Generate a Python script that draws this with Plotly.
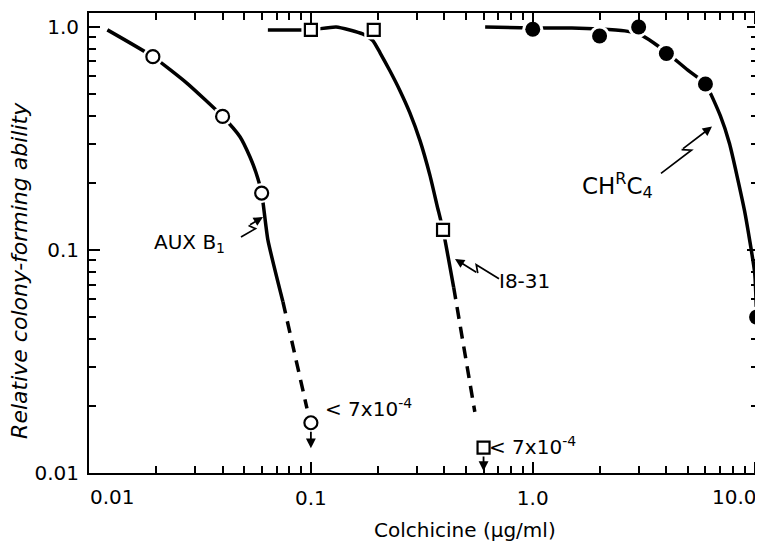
import math
import plotly.graph_objects as go

# ---------------- data ----------------
# AUX B1 (open circles)
aux_x = [0.0194, 0.040, 0.060, 0.100]
aux_y = [0.736, 0.397, 0.180, 0.0168]
aux_curve_x = [0.0121, 0.0194, 0.0276, 0.040, 0.0479, 0.0531, 0.0565, 0.060, 0.064, 0.0748]
aux_curve_y = [0.97, 0.736, 0.56, 0.397, 0.322, 0.262, 0.223, 0.180, 0.111, 0.0586]
aux_dash_x = [0.0748, 0.096]
aux_dash_y = [0.0586, 0.0195]

# I8-31 (open squares)
i8_x = [0.100, 0.192, 0.394, 0.60]
i8_y = [0.97, 0.97, 0.123, 0.013]
i8_curve_x = [0.064, 0.100, 0.130, 0.171, 0.190, 0.205, 0.227, 0.252, 0.279, 0.310, 0.344, 0.370, 0.394, 0.44]
i8_curve_y = [0.97, 0.97, 1.00, 0.93, 0.87, 0.766, 0.636, 0.518, 0.413, 0.310, 0.216, 0.159, 0.123, 0.068]
i8_dash_x = [0.44, 0.548]
i8_dash_y = [0.068, 0.0188]

# CH^R C4 (filled circles)
ch_x = [1.0, 2.0, 3.0, 4.0, 6.0, 10.2]
ch_y = [0.976, 0.91, 1.0, 0.76, 0.555, 0.05]
ch_curve_x = [0.61, 1.0, 1.5, 2.0, 2.6, 3.0, 3.5, 4.0, 5.0, 6.0, 7.0, 7.7, 9.0, 10.0, 10.2]
ch_curve_y = [1.0, 0.99, 0.99, 0.98, 0.96, 0.93, 0.85, 0.77, 0.64, 0.555, 0.40, 0.30, 0.15, 0.079, 0.05]

x_major = [0.01, 0.1, 1.0, 10.0]
x_major_text = ["", "0.1", "1.0", ""]
y_major = [0.01, 0.1, 1.0]
y_major_text = ["0.01", "0.1", "1.0"]
x_minor = [m * d for d in (0.01, 0.1, 1.0) for m in range(2, 10)]
y_minor = [m * d for d in (0.01, 0.1) for m in range(2, 10)]

FONT = "DejaVu Sans"
INK = "black"
LW = 3.5

# plot-area geometry in page pixels (used only to place leader strokes / labels)
PX0, PX1, PY0, PY1 = 89, 758, 11, 473

def paper(px, py):
    return (px - PX0) / (PX1 - PX0), (PY1 - py) / (PY1 - PY0)

fig = go.Figure()

def line(x, y, dash="solid"):
    fig.add_trace(go.Scatter(x=x, y=y, mode="lines",
                             line=dict(color=INK, width=LW, dash=dash, shape="spline", smoothing=0.5),
                             hoverinfo="skip", showlegend=False))

line(aux_curve_x, aux_curve_y)
line(aux_dash_x, aux_dash_y, dash="12px,8px")
line(i8_curve_x, i8_curve_y)
line(i8_dash_x, i8_dash_y, dash="12px,8px")
line(ch_curve_x, ch_curve_y)

# white halos to break the curves around markers
for xs, ys, sym, sz in ((aux_x, aux_y, "circle", 20), (i8_x, i8_y, "square", 19), (ch_x, ch_y, "circle", 21)):
    fig.add_trace(go.Scatter(x=xs, y=ys, mode="markers", cliponaxis=False,
                             marker=dict(symbol=sym, size=sz, color="white", line=dict(width=0)),
                             hoverinfo="skip", showlegend=False))

fig.add_trace(go.Scatter(x=aux_x, y=aux_y, mode="markers", cliponaxis=False, name="AUX B1",
                         marker=dict(symbol="circle-open", size=13, color=INK, line=dict(width=2.2, color=INK)),
                         showlegend=False))
fig.add_trace(go.Scatter(x=i8_x, y=i8_y, mode="markers", cliponaxis=False, name="I8-31",
                         marker=dict(symbol="square", size=12, color="white", line=dict(width=2.2, color=INK)),
                         showlegend=False))
fig.add_trace(go.Scatter(x=ch_x, y=ch_y, mode="markers", cliponaxis=False, name="CHRC4",
                         marker=dict(symbol="circle", size=15, color=INK, line=dict(width=0)),
                         showlegend=False))

L = math.log10
annotations = []
shapes = []

def txt(x, y, s, xanchor="center", size=20):
    annotations.append(dict(x=L(x), y=L(y), xref="x", yref="y", text=s, showarrow=False,
                            xanchor=xanchor, yanchor="middle", font=dict(family=FONT, size=size, color=INK)))

def arrow(x, y, ax, ay, w=1.8):
    annotations.append(dict(x=L(x), y=L(y), xref="x", yref="y", text="", showarrow=True,
                            ax=ax, ay=ay, arrowhead=2, arrowsize=1.1, arrowwidth=w, arrowcolor=INK))

def bolt(tail, head, off=3.5):
    """lightning-bolt leader from tail (label) to head (curve), page pixels"""
    tx, ty = tail
    hx, hy = head
    dx, dy = hx - tx, hy - ty
    d = math.hypot(dx, dy)
    nx, ny = -dy / d, dx / d
    p1 = (tx + 0.55 * dx + off * nx, ty + 0.55 * dy + off * ny)
    p2 = (tx + 0.45 * dx - off * nx, ty + 0.45 * dy - off * ny)
    pts = [paper(*tail), paper(*p1), paper(*p2)]
    path = "M {} {} L {} {} L {} {}".format(*[c for p in pts for c in p])
    shapes.append(dict(type="path", xref="paper", yref="paper", path=path,
                       line=dict(color=INK, width=1.7)))
    hxp, hyp = paper(hx, hy)
    annotations.append(dict(x=hxp, y=hyp, xref="paper", yref="paper", text="", showarrow=True,
                            ax=p2[0] - hx, ay=p2[1] - hy, arrowhead=2, arrowsize=1.1,
                            arrowwidth=1.7, arrowcolor=INK))

txt(0.0285, 0.107, "AUX B<sub>1</sub>")
bolt((241, 236), (263, 216))
txt(0.689, 0.0727, "I8-31", xanchor="left")
bolt((499, 278), (455, 258))
txt(2.41, 0.195, "CH<sup>R</sup>C<sub>4</sub>", size=23)
bolt((661, 172), (712, 125))
txt(0.113, 0.0195, "&lt; 7x10<sup>-4</sup>", xanchor="left")
txt(0.62, 0.0132, "&lt; 7x10<sup>-4</sup>", xanchor="left")
arrow(0.1, 0.0129, 0, -18)
arrow(0.6, 0.0102, 0, -16)

# edge tick labels
annotations.append(dict(x=(112 - 89) / 669, y=-0.052, xref="paper", yref="paper", text="0.01", showarrow=False,
                        xanchor="center", yanchor="middle", font=dict(family=FONT, size=20, color=INK)))
annotations.append(dict(x=(734 - 89) / 669, y=-0.052, xref="paper", yref="paper", text="10.0", showarrow=False,
                        xanchor="center", yanchor="middle", font=dict(family=FONT, size=20, color=INK)))
# axis titles
annotations.append(dict(x=(465 - 89) / 669, y=(473 - 530) / 462, xref="paper", yref="paper",
                        text="Colchicine (μg/ml)", showarrow=False, xanchor="center", yanchor="middle",
                        font=dict(family=FONT, size=20, color=INK)))
annotations.append(dict(x=(20 - 89) / 669, y=(473 - 270) / 462, xref="paper", yref="paper",
                        text="<i>Relative colony-forming ability</i>", showarrow=False, textangle=-90,
                        xanchor="center", yanchor="middle", font=dict(family=FONT, size=22, color=INK)))

axis_common = dict(type="log", showgrid=False, zeroline=False, showline=True, linecolor=INK, linewidth=2,
                   mirror="ticks", ticks="inside", ticklen=11, tickwidth=2, tickcolor=INK,
                   tickfont=dict(family=FONT, size=20, color=INK))

# the page body adds an 8px offset, so the figure is 8px smaller and margins compensate
fig.update_layout(
    width=755, height=545,
    margin=dict(l=81, r=5, t=3, b=80),
    paper_bgcolor="white", plot_bgcolor="white",
    xaxis=dict(axis_common, range=[-2.0, 1.015], tickmode="array", tickvals=x_major, ticktext=x_major_text,
               ticklabelstandoff=6,
               minor=dict(tickmode="array", tickvals=x_minor, ticks="inside", ticklen=7, tickwidth=2, tickcolor=INK)),
    yaxis=dict(axis_common, range=[-2.0, 0.0625], tickmode="array", tickvals=y_major, ticktext=y_major_text,
               ticklabelstandoff=4,
               minor=dict(tickmode="array", tickvals=y_minor, ticks="inside", ticklen=7, tickwidth=2, tickcolor=INK)),
    annotations=annotations,
    shapes=shapes,
    showlegend=False,
)

fig.write_html("out.html")
